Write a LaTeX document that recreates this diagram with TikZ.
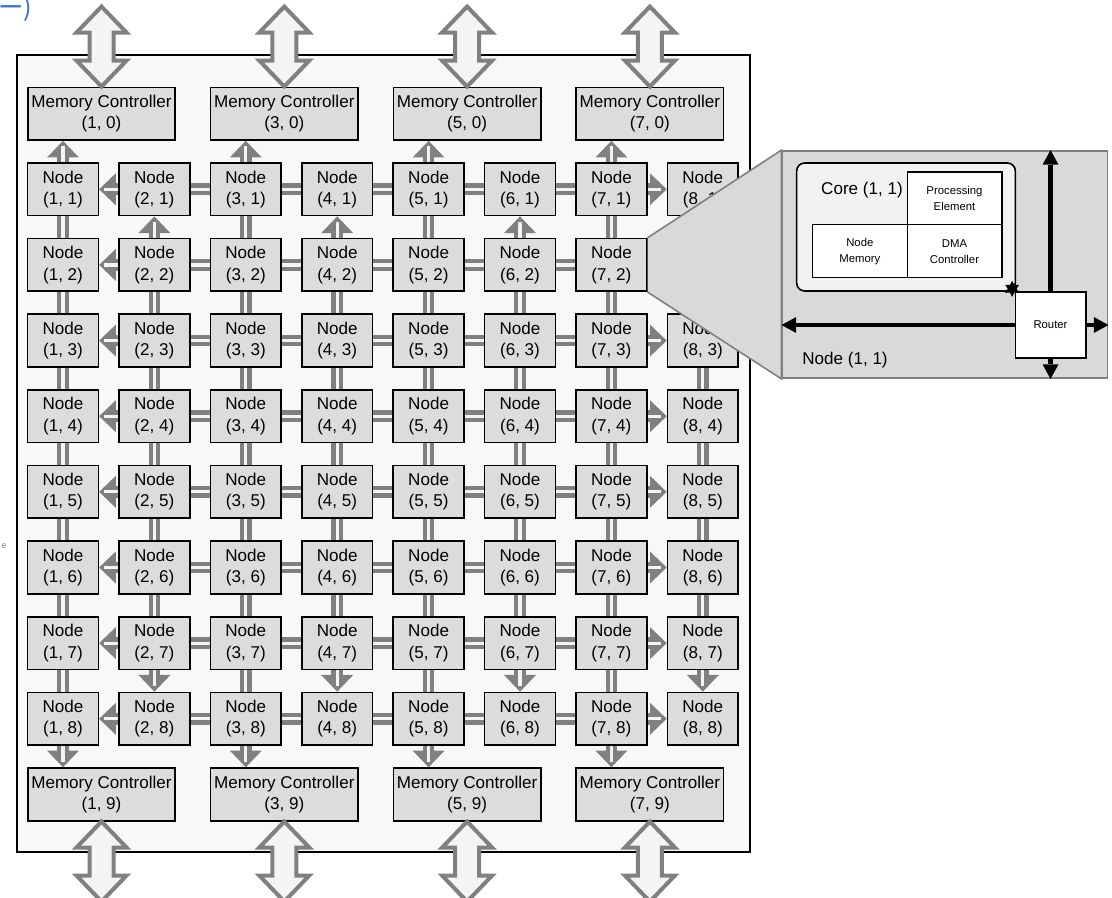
\documentclass[tikz,border=0pt]{standalone}
\usepackage{fontspec}
\setmainfont{Liberation Sans}
\newfontfamily\jpfont{Noto Sans CJK JP}
\usetikzlibrary{arrows.meta,positioning,calc,shapes.geometric}
\definecolor{chipbg}{HTML}{F8F8F8}
\definecolor{boxgray}{HTML}{DCDCDC}
\definecolor{linkgray}{HTML}{808080}
\definecolor{gapwhite}{HTML}{F4F4F4}
\definecolor{zoomgray}{HTML}{D9D9D9}
\definecolor{coregray}{HTML}{F2F2F2}
\definecolor{titleblue}{HTML}{2F6FD6}
\tikzset{
  pe/.style={draw, fill=boxgray, line width=1.2pt, minimum width=53pt, minimum height=39.5pt,
    inner sep=0pt, align=center, font=\fontsize{12.8}{16}\selectfont},
  mc/.style={pe, minimum width=110.5pt},
  link/.style={draw=linkgray, double=gapwhite, line width=3.2pt, double distance=2.4pt},
  arr/.style={draw=linkgray, line width=8.8pt, -{Triangle[length=12.5pt,width=24pt,line width=0pt]},
    postaction={draw=gapwhite, line width=2.4pt, arrows=-, shorten >=4pt}},
  bigarrow/.style={draw=linkgray, fill=gapwhite, line width=3pt, line join=miter},
  part/.style={draw, fill=white, line width=1pt, inner sep=0pt, outer sep=0pt, align=center,
    minimum width=71pt, minimum height=39.5pt, font=\fontsize{8.5}{12}\selectfont},
  bus/.style={line width=3.4pt, -{Triangle[length=11pt,width=12pt,line width=0pt]}},
}
\begin{document}
\begin{tikzpicture}[x=0.75pt,y=-0.75pt]
\useasboundingbox (0,0) rectangle (1112,898);
\node[anchor=base west, text=titleblue, inner sep=0, font=\jpfont\fontsize{19}{19}\selectfont] (title) at (-2,17) {ー)};
\node[text=gray, inner sep=0, font=\fontsize{6.5}{6.5}\selectfont] (stray) at (4,546) {e};

% chip
\draw[fill=chipbg, line width=1.1pt] (17,55) rectangle (750,852);

% memory controllers and nodes
\foreach \i in {1,3,5,7} {
  \node[mc] (mc\i0) at ({101.5+91.4*(\i-1)},113.7) {Memory Controller\\(\i, 0)};
  \node[mc] (mc\i9) at ({101.5+91.4*(\i-1)},794.4) {Memory Controller\\(\i, 9)};
}
\foreach \i in {1,...,8}
  \foreach \j in {1,...,8}
    \node[pe] (n\i\j) at ({63+91.4*(\i-1)},{189.3+75.64*(\j-1)}) {Node\\(\i, \j)};

% links between nodes
\foreach \j in {1,...,8} {
  \draw[arr] (n2\j) -- (n1\j);
  \foreach \i in {2,...,6} {
    \pgfmathtruncatemacro\k{\i+1}
    \draw[link] (n\i\j) -- (n\k\j);
  }
  \draw[arr] (n7\j) -- (n8\j);
}
\foreach \i in {1,...,8} {
  \foreach \j in {2,...,6} {
    \pgfmathtruncatemacro\k{\j+1}
    \draw[link] (n\i\j) -- (n\i\k);
  }
  \ifodd\i
    \draw[link] (n\i1) -- (n\i2);
    \draw[link] (n\i7) -- (n\i8);
    \draw[arr] (n\i1.north) -- (n\i1.north |- mc\i0.south);
    \draw[arr] (n\i8.south) -- (n\i8.south |- mc\i9.north);
  \else
    \draw[arr] (n\i2) -- (n\i1);
    \draw[arr] (n\i7) -- (n\i8);
  \fi
}

% external ports
\foreach \i in {1,3,5,7} {
  \draw[bigarrow] (mc\i0.north) -- ++(-25,-26) -- ++(13,0) -- ++(0,-28) -- ++(-13,0) -- ++(25,-26)
    -- ++(25,26) -- ++(-13,0) -- ++(0,28) -- ++(13,0) -- cycle;
  \draw[bigarrow] (mc\i9.south) -- ++(-25,26) -- ++(13,0) -- ++(0,28) -- ++(-13,0) -- ++(25,26)
    -- ++(25,-26) -- ++(-13,0) -- ++(0,-28) -- ++(13,0) -- cycle;
}

% zoom of node (1,1)
\node[draw=linkgray, fill=zoomgray, line width=1.2pt, minimum width=244pt, minimum height=170.5pt,
  inner sep=0pt] (zoom) at (945,264.5) {};
\fill[zoomgray] (n72.north east) -- (zoom.north west) -- (zoom.south west) -- (n72.south east) -- cycle;
\draw[linkgray, line width=1.2pt] (n72.north east) -- (zoom.north west) -- (zoom.south west)
  -- (n72.south east);

\node[draw, fill=coregray, rounded corners=6pt, line width=1.2pt, minimum width=164pt,
  minimum height=96pt] (core) at (906,227) {};
\node[part] (pe) at (954.5,198.5) {Processing\\Element};
\node[part, below=0pt of pe] (dma) {DMA\\Controller};
\node[part, left=0pt of dma] (mem) {Node\\Memory};
\node[font=\fontsize{12.8}{16}\selectfont] (coretitle) at (862,190) {Core (1, 1)};

\node[part, minimum width=53pt, minimum height=49.5pt] (router) at (1050.5,325) {Router};
\draw[bus] (router.west) -- (router.west -| zoom.west);
\draw[bus] (router.east) -- (router.east -| zoom.east);
\draw[bus] (router.north) -- (router.north |- zoom.north);
\draw[bus] (router.south) -- (router.south |- zoom.south);
\node[star, star points=6, star point ratio=1.8, fill, inner sep=0pt, minimum size=12pt] (joint)
  at ($(core.south east)+(-4,-3)$) {};
\node[font=\fontsize{12.8}{16}\selectfont] (nodetitle) at (845,360) {Node (1, 1)};
\end{tikzpicture}
\end{document}
